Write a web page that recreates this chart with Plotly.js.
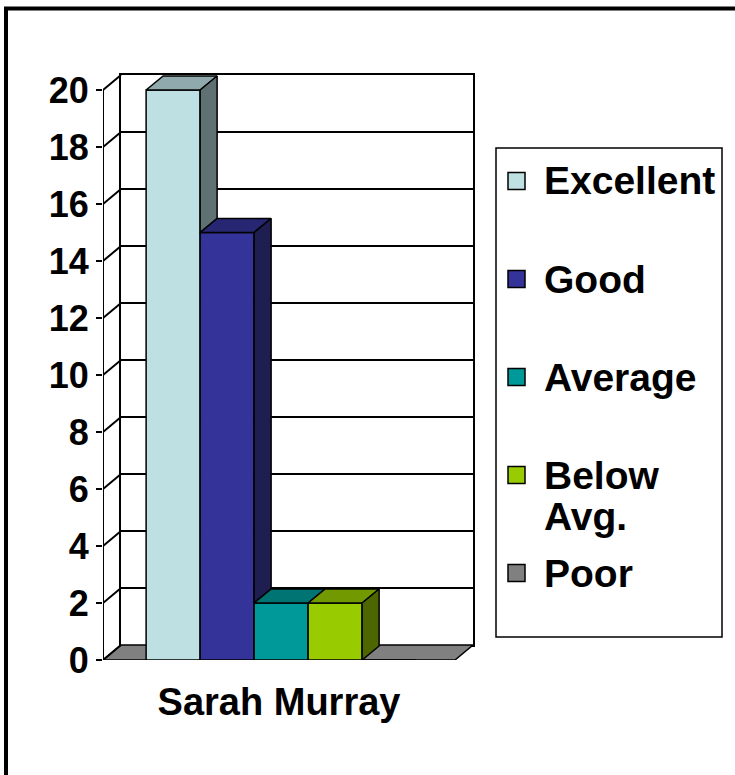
<!DOCTYPE html>
<html>
<head>
<meta charset="utf-8">
<script src="https://cdn.plot.ly/plotly-3.0.1.min.js"></script>
<style>html,body{margin:0;padding:0;background:#fff;}</style>
</head>
<body>
<div id="chart" style="width:735px;height:775px;"></div>
<script>
// ---------------- data ----------------
const categories = ['Sarah Murray'];
const seriesNames = ['Excellent', 'Good', 'Average', 'Below Avg.', 'Poor'];
const excellent = [20];
const good = [15];
const average = [2];
const belowAvg = [2];
const poor = [0];
const yTickValues = [0, 2, 4, 6, 8, 10, 12, 14, 16, 18, 20];
const yTickLabels = ['0', '2', '4', '6', '8', '10', '12', '14', '16', '18', '20'];

// ---------------- styles ----------------
const seriesValues = [excellent, good, average, belowAvg, poor];
const frontColors = ['#BEE0E3', '#333399', '#009999', '#99CC00', '#808080'];
const topColors   = ['#8FA9AC', '#262673', '#007373', '#739900', '#606060'];
const sideColors  = ['#5F7173', '#1E1E50', '#004D4D', '#4D6600', '#404040'];
const FONT = 'Liberation Sans, Arial, Helvetica, sans-serif';

const W = 735, H = 775;
const px = v => v / W;
const py = v => 1 - v / H;

// geometry (pixels of the reference)
const FRONT_L = 103, FRONT_R = 455, WALL_L = 121, WALL_R = 473;
const FLOOR_Y = 660, WALL_FLOOR_Y = 645, WALL_TOP_Y = 75;
const yMax = yTickValues[yTickValues.length - 1];
const catPx = FRONT_R - FRONT_L;                 // px per category unit
const yPx = (FLOOR_Y - (WALL_TOP_Y + (FLOOR_Y - WALL_FLOOR_Y))) / yMax; // px per value unit
const WX = (WALL_R - FRONT_R) / catPx;           // wall depth in x units
const DY = (FLOOR_Y - WALL_FLOOR_Y) / yPx;       // wall depth in y units
const BX = 17 / catPx;                           // bar depth x
const BY = 14 / yPx;                             // bar depth y
const BAR_GAP = 0.233;
const nS = seriesNames.length;
const BW = (1 - BAR_GAP) / nS;
const GROUP_SHIFT = 0.006;

// empty trace that keeps the back-wall subplot alive
const traces = [{type: 'scatter', mode: 'markers', x: [], y: [], xaxis: 'x', yaxis: 'y',
  hoverinfo: 'skip', showlegend: false}];
const faceTraces = [];
seriesNames.forEach((name, i) => {
  const vals = seriesValues[i];
  const off = -0.5 + BAR_GAP / 2 + GROUP_SHIFT + i * BW;
  traces.push({
    type: 'bar', name: name,
    x: categories.map((c, k) => k), y: vals,
    width: BW, offset: off,
    xaxis: 'x2', yaxis: 'y2',
    marker: {color: frontColors[i], line: {color: '#000', width: 1.5}},
    hoverinfo: 'name+y', showlegend: false
  });
  categories.forEach((c, k) => {
    const v = vals[k];
    if (!(v > 0)) return;
    const l = k + off, r = l + BW;
    // top face
    faceTraces.push({
      type: 'scatter', mode: 'lines', xaxis: 'x2', yaxis: 'y2',
      x: [l, l + BX, r + BX, r, l], y: [v, v + BY, v + BY, v, v],
      fill: 'toself', fillcolor: topColors[i],
      line: {color: '#000', width: 1.5}, hoverinfo: 'skip', showlegend: false
    });
    // visible part of the side face (hidden below the next bar's height)
    const next = i + 1 < nS ? Math.max(seriesValues[i + 1][k], 0) : 0;
    if (v > next) {
      faceTraces.push({
        type: 'scatter', mode: 'lines', xaxis: 'x2', yaxis: 'y2',
        x: [r, r, r + BX, r + BX, r], y: [next, v, v + BY, next + BY, next],
        fill: 'toself', fillcolor: sideColors[i],
        line: {color: '#000', width: 1.5}, hoverinfo: 'skip', showlegend: false
      });
    }
  });
});

const shapes = [];
// outer frame
shapes.push({type: 'rect', xref: 'paper', yref: 'paper', x0: px(6), x1: 1.1, y0: py(8.5), y1: -0.1,
  line: {color: '#000', width: 4}, fillcolor: 'rgba(0,0,0,0)'});
// floor
const x0 = -0.5, x1 = categories.length - 0.5;
shapes.push({type: 'path', xref: 'x2', yref: 'y2', layer: 'below',
  path: `M${x0},0 L${x1},0 L${x1 + WX},${DY} L${x0 + WX},${DY} Z`,
  fillcolor: '#808080', line: {color: '#000', width: 1.5}});
// side wall lines
yTickValues.forEach(v => {
  shapes.push({type: 'line', xref: 'x2', yref: 'y2', layer: 'below',
    x0: x0, y0: v, x1: x0 + WX, y1: v + DY, line: {color: '#000', width: 2}});
});
// front vertical axis line
shapes.push({type: 'line', xref: 'x2', yref: 'y2', x0: x0, x1: x0, y0: 0, y1: yMax,
  line: {color: '#000', width: 2}});
// category boundary ticks
[x0, x1].forEach(xv => {
  shapes.push({type: 'line', xref: 'x2', yref: 'y2', ysizemode: 'pixel', yanchor: 0,
    x0: xv, x1: xv, y0: 0, y1: -7, line: {color: '#000', width: 2}});
});

// manual legend
const LEG = {l: 496, r: 722, t: 148, b: 637, sqL: 508, sq: 17, textX: 542, firstY: 181, step: 98, lineStep: 41, size: 39};
shapes.push({type: 'rect', xref: 'paper', yref: 'paper', x0: px(LEG.l), x1: px(LEG.r), y0: py(LEG.t), y1: py(LEG.b),
  line: {color: '#000', width: 1.5}, fillcolor: '#fff'});
const annotations = [];
seriesNames.forEach((name, i) => {
  const cy = LEG.firstY + i * LEG.step;
  shapes.push({type: 'rect', xref: 'paper', yref: 'paper',
    x0: px(LEG.sqL), x1: px(LEG.sqL + LEG.sq), y0: py(cy - LEG.sq / 2), y1: py(cy + LEG.sq / 2),
    fillcolor: frontColors[i], line: {color: '#000', width: 1.5}});
  const lines = name === 'Below Avg.' ? name.split(' ') : [name];
  lines.forEach((part, j) => annotations.push({
    xref: 'paper', yref: 'paper', x: px(LEG.textX), y: py(cy + j * LEG.lineStep),
    xanchor: 'left', yanchor: 'middle', showarrow: false, text: part,
    font: {family: FONT, size: LEG.size, weight: 'bold', color: '#000'}}));
});

const layout = {
  width: W, height: H,
  margin: {l: 0, r: 0, t: 0, b: 0, pad: 0},
  paper_bgcolor: '#fff', plot_bgcolor: 'rgba(0,0,0,0)',
  showlegend: false, barmode: 'overlay',
  font: {family: FONT, color: '#000'},
  // back wall
  xaxis: {domain: [px(WALL_L), px(WALL_R)], anchor: 'y', range: [0, 1], showgrid: false, zeroline: false,
    showticklabels: false, ticks: '', showline: true, mirror: true, linecolor: '#000', linewidth: 2, fixedrange: true},
  yaxis: {domain: [py(WALL_FLOOR_Y), py(WALL_TOP_Y)], anchor: 'x', range: [0, yMax], tickvals: yTickValues,
    showgrid: true, gridcolor: '#000', gridwidth: 2, showticklabels: false, ticks: '',
    showline: true, mirror: true, linecolor: '#000', linewidth: 2, zeroline: false, fixedrange: true},
  // bars
  xaxis2: {domain: [px(FRONT_L), px(WALL_R)], anchor: 'y2', range: [x0, x0 + (WALL_R - FRONT_L) / catPx],
    tickvals: categories.map((c, k) => k), ticktext: categories, ticks: '', showgrid: false, zeroline: false,
    showline: false, ticklabelstandoff: 16, fixedrange: true,
    tickfont: {family: FONT, size: 38, weight: 'bold', color: '#000'}},
  yaxis2: {domain: [py(FLOOR_Y), py(WALL_TOP_Y)], anchor: 'x2', range: [0, yMax + DY],
    tickvals: yTickValues, ticktext: yTickLabels, ticks: 'outside', ticklen: 6, tickwidth: 2, tickcolor: '#000',
    showgrid: false, zeroline: false, showline: false, fixedrange: true,
    tickfont: {family: FONT, size: 36, weight: 'bold', color: '#000'}},
  shapes: shapes,
  annotations: annotations
};

Plotly.newPlot('chart', traces.concat(faceTraces), layout, {displayModeBar: false, staticPlot: true});
</script>
</body>
</html>
